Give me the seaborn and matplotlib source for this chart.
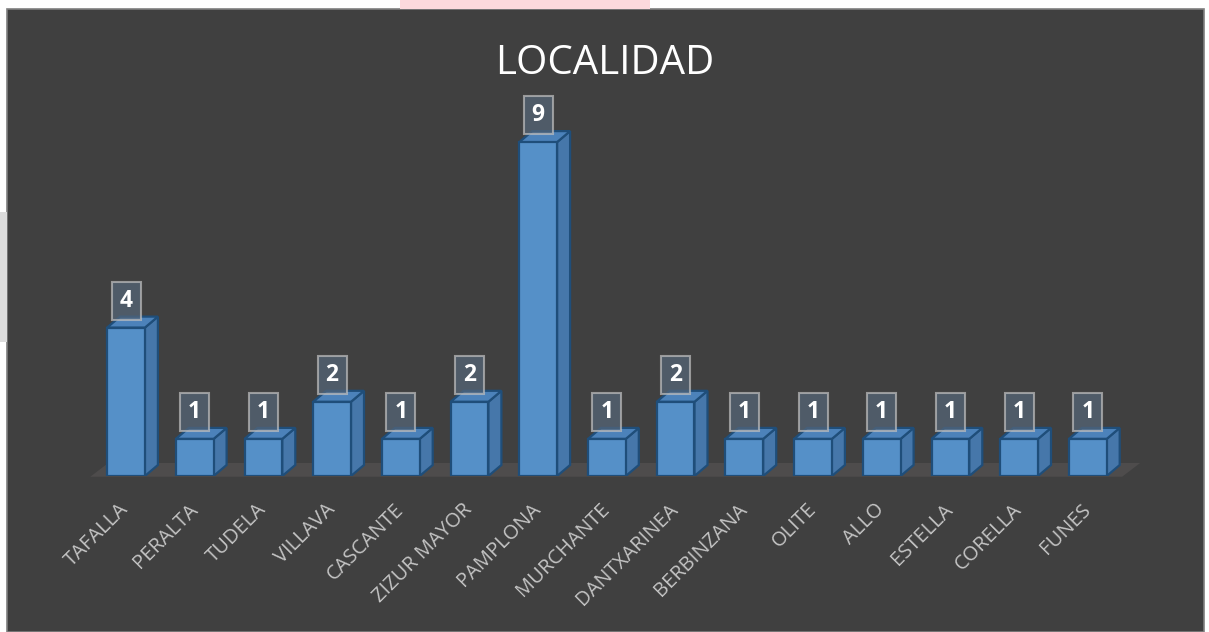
import numpy as np
import pandas as pd
import matplotlib
matplotlib.use("Agg")
import matplotlib.pyplot as plt
from matplotlib.patches import Polygon, Rectangle
import seaborn as sns

# ---------------------
# Data
# ---------------------
localidades = ["TAFALLA", "PERALTA", "TUDELA", "VILLAVA", "CASCANTE", "ZIZUR MAYOR",
               "PAMPLONA", "MURCHANTE", "DANTXARINEA", "BERBINZANA", "OLITE", "ALLO",
               "ESTELLA", "CORELLA", "FUNES"]
conteos = [4, 1, 1, 2, 1, 2, 9, 1, 2, 1, 1, 1, 1, 1, 1]
titulo = "LOCALIDAD"

BG = "#404040"
FRONT = "#5590C8"
SIDE = "#4677AA"
TOP = "#4C82BA"
EDGE = "#1F4E7A"

W, H = 1209, 632
fig = plt.figure(figsize=(W / 100, H / 100), dpi=100, facecolor="white")

# dark chart panel with a thin grey border
fig.patches.append(Rectangle((7 / W, 0), 1197 / W, 623 / H, transform=fig.transFigure,
                             facecolor=BG, edgecolor="#7f7f7f", lw=1.2, zorder=-2))
# faint watermark bits in the white margin
fig.patches.append(Rectangle((400 / W, 623 / H), 250 / W, 9 / H, transform=fig.transFigure,
                             facecolor="#fbd9dc", edgecolor="none", zorder=-2))
fig.patches.append(Rectangle((0, 290 / H), 7 / W, 130 / H, transform=fig.transFigure,
                             facecolor="#dcdcdc", edgecolor="none", zorder=-2))

ax = fig.add_axes([7 / W, 156 / H, 1197 / W, 467 / H])
ax.set_zorder(2)
ax.set_facecolor("none")

df = pd.DataFrame({"localidad": localidades, "n": conteos})
sns.barplot(data=df, x="localidad", y="n", width=0.55, color=FRONT,
            saturation=1, edgecolor=EDGE, linewidth=1.6, ax=ax, zorder=3)

px_x = 68.7   # pixels per category
px_y = 37.1   # pixels per unit
ax.set_xlim((7 - 126) / px_x, (1204 - 126) / px_x)
ax.set_ylim(0, 467 / px_y)

dx, dy = 13 / px_x, 11 / px_y

# floor slab
fdx, fdy = 18 / px_x, 13 / px_y
ax.add_patch(Polygon([(-0.52, -0.02), (14.5, -0.02), (14.5 + fdx, fdy), (-0.52 + fdx, fdy)],
                     closed=True, facecolor="#4e4c4c", edgecolor="none", zorder=1, clip_on=False))

# 3D faces + value boxes built from the bars seaborn drew
for bar, val in zip(ax.patches[:len(conteos)], conteos):
    x0, w, h = bar.get_x(), bar.get_width(), bar.get_height()
    x1 = x0 + w
    ax.add_patch(Polygon([(x1, 0), (x1 + dx, dy), (x1 + dx, h + dy), (x1, h)], closed=True,
                         facecolor=SIDE, edgecolor=EDGE, lw=1.6, zorder=2.5))
    ax.add_patch(Polygon([(x0, h), (x1, h), (x1 + dx, h + dy), (x0 + dx, h + dy)], closed=True,
                         facecolor=TOP, edgecolor=EDGE, lw=1.6, zorder=2.6))
    cx = x0 + w / 2
    bw, bh = 29 / px_x, 38 / px_y
    by = h + 8 / px_y
    ax.add_patch(Rectangle((cx - bw / 2, by), bw, bh, facecolor="#56677a", alpha=0.7,
                           edgecolor="#c0c0c0", lw=1.5, zorder=4))
    ax.text(cx, by + bh / 2, str(val), ha="center", va="center", color="white",
            fontsize=16.5, fontweight="bold", family="Open Sans", zorder=5)

ax.set_xlabel("")
ax.set_ylabel("")
ax.set_yticks([])
ax.tick_params(axis="x", length=0, pad=22)
ax.set_xticks(range(len(localidades)))
ax.set_xticklabels(localidades, rotation=45, ha="right", rotation_mode="anchor",
                   color="#c4c4c4", fontsize=14.5, family="Open Sans")
for lab in ax.get_xticklabels():
    lab.set_va("center")
for s in ax.spines.values():
    s.set_visible(False)

fig.text(605 / W, 1 - 64 / H, titulo, ha="center", va="center", color="white",
         fontsize=29, family="Open Sans")

fig.savefig("out.png", dpi=100, facecolor="white")
